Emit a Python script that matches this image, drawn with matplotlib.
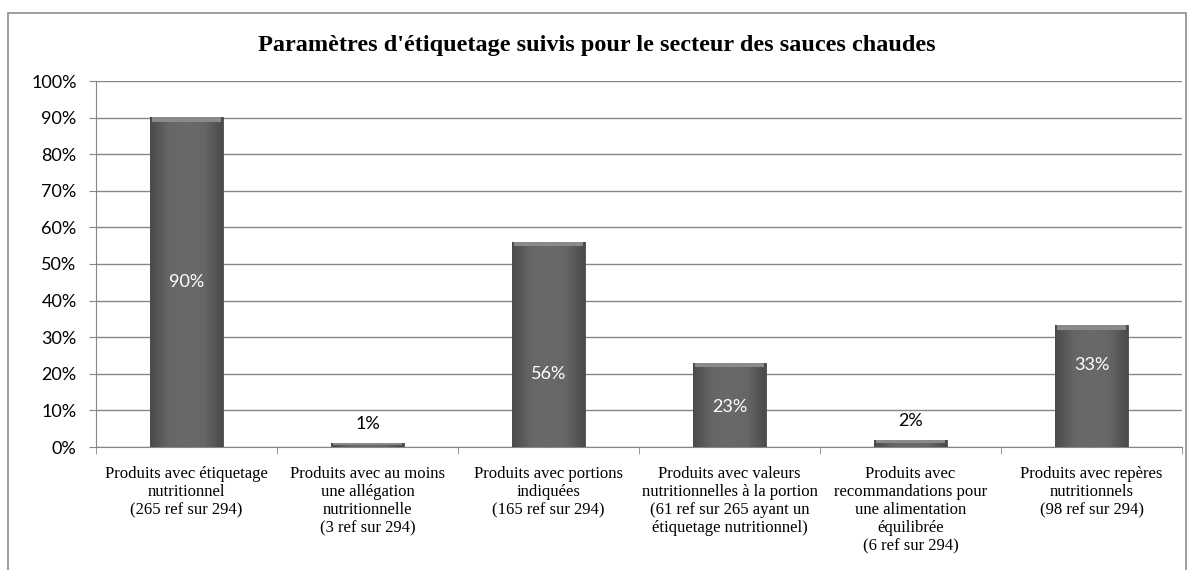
import numpy as np
import matplotlib.pyplot as plt
from matplotlib.patches import Rectangle
from matplotlib.colors import LinearSegmentedColormap

categories = [
    "Produits avec étiquetage\nnutritionnel\n(265 ref sur 294)",
    "Produits avec au moins\nune allégation\nnutritionnelle\n(3 ref sur 294)",
    "Produits avec portions\nindiquées\n(165 ref sur 294)",
    "Produits avec valeurs\nnutritionnelles à la portion\n(61 ref sur 265 ayant un\nétiquetage nutritionnel)",
    "Produits avec\nrecommandations pour\nune alimentation\néquilibrée\n(6 ref sur 294)",
    "Produits avec repères\nnutritionnels\n(98 ref sur 294)",
]
values = [90.1, 1.0, 56.1, 23.0, 2.0, 33.3]
labels = ["90%", "1%", "56%", "23%", "2%", "33%"]
label_inside = [True, False, True, True, False, True]
label_y = [45, 0, 20, 11, 0, 22.5]

title = "Paramètres d'étiquetage suivis pour le secteur des sauces chaudes"

fig = plt.figure(figsize=(11.94, 5.70), dpi=100)
ax = fig.add_axes([96 / 1194, (570 - 447) / 570, (1182 - 96) / 1194, (447 - 81) / 570])

# chart frame (bottom is cut off in the original)
fig.patches.append(Rectangle((8 / 1194, -0.05), (1186 - 8) / 1194, (570 - 13) / 570 + 0.05,
                             transform=fig.transFigure, fill=False, edgecolor="#8c8c8c", lw=1.2))

x = np.arange(len(values))
width = 0.4
bars = ax.bar(x, values, width=width, color="#626262", edgecolor="#4a4a4a", lw=0.6, zorder=3)

# horizontal shading to mimic the bevelled bars
cmap = LinearSegmentedColormap.from_list("bev", ["#4b4b4b", "#666666", "#6a6a6a", "#666666", "#4b4b4b"])
grad = np.linspace(0, 1, 64).reshape(1, -1)
for b in bars:
    x0, w, h = b.get_x(), b.get_width(), b.get_height()
    im = ax.imshow(grad, cmap=cmap, aspect="auto", extent=(x0, x0 + w, 0, h), zorder=3.5,
                   interpolation="bicubic")
    im.set_clip_path(b)
    top = min(1.2, h * 0.5)
    ax.add_patch(Rectangle((x0 + w * 0.03, h - top), w * 0.94, top, color="#8a8a8a", lw=0, zorder=3.6))

for i, b in enumerate(bars):
    if label_inside[i]:
        ax.text(b.get_x() + b.get_width() / 2, label_y[i], labels[i], ha="center", va="center",
                color="white", fontsize=13, family="Lato", zorder=5)
    else:
        ax.annotate(labels[i], (b.get_x() + b.get_width() / 2, b.get_height()), xytext=(0, 8),
                    textcoords="offset points", ha="center", va="bottom", color="black",
                    fontsize=13, family="Lato", zorder=5)

ax.set_xlim(-0.5, len(values) - 0.5)
ax.set_ylim(0, 100)
ax.set_yticks(np.arange(0, 101, 10))
ax.set_yticklabels([f"{v}%" for v in range(0, 101, 10)], family="Lato", fontsize=13)
ax.yaxis.grid(True, color="#868686", lw=1, zorder=0)
ax.tick_params(axis="y", length=5, color="#868686", pad=9)

ax.set_xticks(x)
ax.set_xticklabels(categories, family="Liberation Serif", fontsize=12, linespacing=1.16, va="top")
ax.set_xticks(np.arange(-0.5, len(values), 1), minor=True)
ax.tick_params(axis="x", which="major", length=0, pad=14)
ax.tick_params(axis="x", which="minor", length=5, color="#868686")

for s in ["top", "right"]:
    ax.spines[s].set_visible(False)
for s in ["left", "bottom"]:
    ax.spines[s].set_color("#868686")

fig.text(597 / 1194, 1 - 45 / 570, title, ha="center", va="center", fontsize=17.5,
         fontweight="bold", family="Liberation Serif")

fig.savefig("out.png", dpi=100, facecolor="white")
